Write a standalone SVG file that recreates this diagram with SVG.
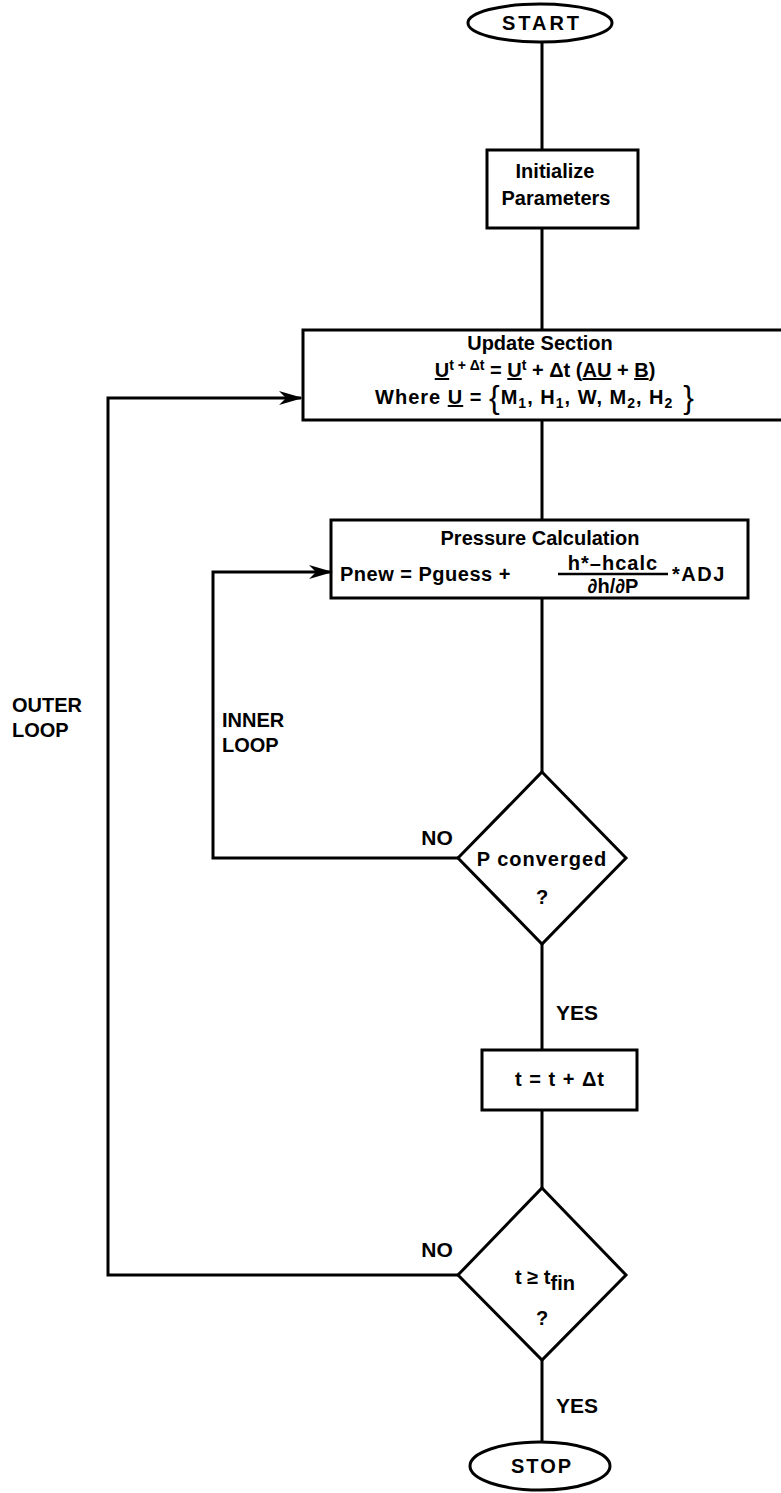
<svg xmlns="http://www.w3.org/2000/svg" width="781" height="1493" viewBox="0 0 781 1493">
<style>
.s{fill:none;stroke:#000;stroke-width:3}
.t{font-family:"Liberation Sans",Arial,sans-serif;font-weight:bold;font-size:20px;fill:#000}
.c{text-anchor:middle}
.u{text-decoration:underline}
.lb{font-size:21px}
</style>
<defs>
<marker id="ah" markerWidth="24" markerHeight="14" refX="22" refY="7" orient="auto" markerUnits="userSpaceOnUse">
<path d="M0,0 L24,7 L0,14 L7,7 Z" fill="#000"/>
</marker>
</defs>
<rect width="781" height="1493" fill="#fff"/>
<g id="connectors">
<path class="s" d="M542,42 V150"/>
<path class="s" d="M542,228 V330"/>
<path class="s" d="M542,420 V520"/>
<path class="s" d="M542,598 V772"/>
<path class="s" d="M542,944 V1050"/>
<path class="s" d="M542,1110 V1188"/>
<path class="s" d="M542,1360 V1442"/>
<path class="s" d="M458,858 H213 V572 H331" marker-end="url(#ah)"/>
<path class="s" d="M458,1275 H108 V398 H301" marker-end="url(#ah)"/>
<text class="t lb" x="437" y="845" text-anchor="middle">NO</text>
<text class="t lb" x="437" y="1257" text-anchor="middle">NO</text>
<text class="t lb" x="556" y="1020">YES</text>
<text class="t lb" x="556" y="1413">YES</text>
<text class="t" x="222" y="727">INNER</text>
<text class="t" x="222" y="752">LOOP</text>
<text class="t" x="12" y="712" font-size="19">OUTER</text>
<text class="t" x="12" y="737" font-size="19">LOOP</text>
</g>
<g id="start">
<ellipse class="s" cx="540" cy="23" rx="72" ry="19"/>
<text class="t c" x="542" y="30" letter-spacing="3">START</text>
</g>
<g id="init">
<rect class="s" x="487" y="150" width="151" height="78"/>
<text class="t c" x="555" y="178">Initialize</text>
<text class="t c" x="556" y="205">Parameters</text>
</g>
<g id="update">
<rect class="s" x="303" y="330" width="490" height="90"/>
<text class="t c" x="540" y="350">Update Section</text>
<text class="t c" x="545" y="377"><tspan class="u">U</tspan><tspan font-size="14" dy="-7">t + Δt</tspan><tspan dy="7"> = </tspan><tspan class="u">U</tspan><tspan font-size="14" dy="-7">t</tspan><tspan dy="7"> + Δt (</tspan><tspan class="u">A</tspan><tspan class="u">U</tspan> + <tspan class="u">B</tspan>)</text>
<text class="t c" x="535" y="404" letter-spacing="1">Where <tspan class="u">U</tspan> = <tspan font-size="32" font-weight="normal" dy="4">{</tspan><tspan dy="-4">M</tspan><tspan font-size="14" dy="4">1</tspan><tspan dy="-4">, H</tspan><tspan font-size="14" dy="4">1</tspan><tspan dy="-4">, W, M</tspan><tspan font-size="14" dy="4">2</tspan><tspan dy="-4">, H</tspan><tspan font-size="14" dy="4">2</tspan><tspan font-size="32" font-weight="normal" dy="0"> }</tspan></text>
</g>
<g id="pressure">
<rect class="s" x="331" y="520" width="417" height="78"/>
<text class="t c" x="540" y="545">Pressure Calculation</text>
<text class="t" x="340" y="581" font-size="21" letter-spacing="0.5">Pnew = Pguess +</text>
<text class="t c" x="613" y="570" font-size="19" letter-spacing="1">h*–hcalc</text>
<line x1="558" y1="574" x2="668" y2="574" stroke="#000" stroke-width="2.5"/>
<text class="t c" x="613" y="593" font-size="18">∂h/∂P</text>
<text class="t" x="672" y="581" letter-spacing="1.5">*ADJ</text>
</g>
<g id="pconv">
<polygon class="s" points="542,772 626,858 542,944 458,858"/>
<text class="t c" x="542" y="866" letter-spacing="1" font-size="22">P converged</text>
<text class="t c" x="542" y="904">?</text>
</g>
<g id="tstep">
<rect class="s" x="482" y="1050" width="155" height="60"/>
<text class="t c" x="560" y="1086" letter-spacing="1">t = t + Δt</text>
</g>
<g id="tfin">
<polygon class="s" points="542,1188 626,1275 542,1360 458,1275"/>
<text class="t c" x="545" y="1284">t ≥ t<tspan dy="6">fin</tspan></text>
<text class="t c" x="542" y="1325">?</text>
</g>
<g id="stop">
<ellipse class="s" cx="540" cy="1466" rx="70" ry="24"/>
<text class="t c" x="542" y="1473" letter-spacing="2">STOP</text>
</g>
</svg>
